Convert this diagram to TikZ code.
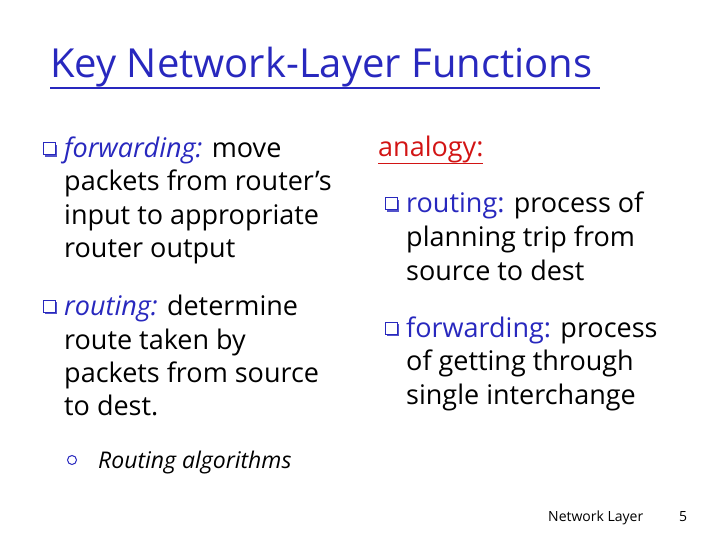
\documentclass[tikz,border=0pt]{standalone}
\usepackage{fontspec}
\setmainfont{Open Sans}
\definecolor{kblue}{RGB}{40,40,190}
\definecolor{kred}{RGB}{210,20,20}
\begin{document}
\begin{tikzpicture}[x=1pt,y=-1pt,
  txt/.style={anchor=base west,inner sep=0pt,font=\fontsize{27}{30}\selectfont},
  small/.style={anchor=base west,inner sep=0pt,font=\fontsize{14}{16}\selectfont},
  sq/.style={draw=kblue,line width=1pt,minimum size=12pt,inner sep=0pt},
  sqshadow/.style={fill=kblue!80,minimum size=12pt,inner sep=0pt}]
\useasboundingbox (0,0) rectangle (720,540);
\node[txt,font=\fontsize{40}{44}\selectfont,text=kblue] (title) at (50,78) {Key Network-Layer Functions};
\draw[kblue,line width=1.2pt] (50,88) -- (600,88);
% bullets
\foreach \n/\x/\y in {b1/49/149, b2/49/306, b3/391/204, b4/391/328}{
  \node[sqshadow] at (\x+2,\y+2) {};
  \node[sq,fill=white] (\n) at (\x,\y) {};
}
\node[txt] (l1) at (64,158) {\textcolor{kblue}{\itshape forwarding:} move};
\node[txt] (l2) at (64,191) {packets from router’s};
\node[txt] (l3) at (64,225) {input to appropriate};
\node[txt] (l4) at (64,258) {router output};
\node[txt] (l5) at (64,315) {\textcolor{kblue}{\itshape routing:} determine};
\node[txt] (l6) at (64,349) {route taken by};
\node[txt] (l7) at (64,382) {packets from source};
\node[txt] (l8) at (64,415) {to dest.};
\node[draw=kblue,line width=1pt,circle,minimum size=9pt,inner sep=0pt] (c1) at (72,460) {};
\node[txt,font=\itshape\fontsize{23}{26}\selectfont] (l9) at (98,468) {Routing algorithms};
\node[txt,text=kred] (an) at (378,157) {analogy:};
\draw[kred,line width=1pt] (378,164) -- (483,164);
\node[txt] (r1) at (406,213) {\textcolor{kblue}{routing:} process of};
\node[txt] (r2) at (406,246) {planning trip from};
\node[txt] (r3) at (406,280) {source to dest};
\node[txt] (r4) at (406,337) {\textcolor{kblue}{forwarding:} process};
\node[txt] (r5) at (406,370) {of getting through};
\node[txt] (r6) at (406,404) {single interchange};
\node[small] (ft) at (548,521) {Network Layer};
\node[small] (pg) at (679,521) {5};
\end{tikzpicture}
\end{document}
